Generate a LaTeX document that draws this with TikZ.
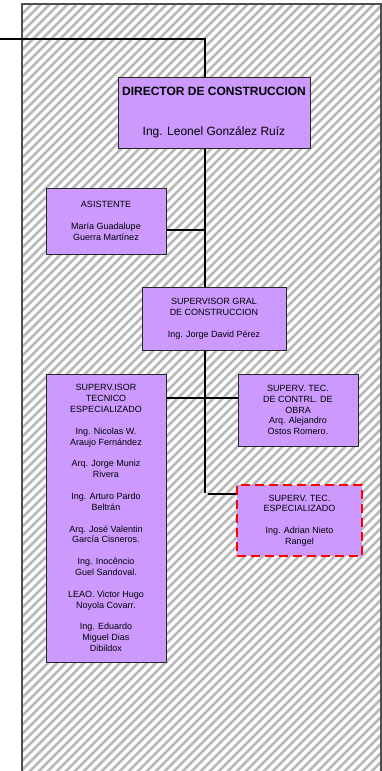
\documentclass[tikz,border=0pt]{standalone}
\usepackage{fontspec}
\setmainfont{Liberation Sans}
\definecolor{boxfill}{HTML}{CC99FF}
\definecolor{hatchgray}{HTML}{B8B8B8}
\definecolor{outergray}{HTML}{505050}
\begin{document}
\begin{tikzpicture}[x=1pt,y=-1pt,
  box/.style={draw=black!85,line width=1pt,fill=boxfill,align=center,
    font=\fontsize{9}{10.8}\selectfont,inner sep=0pt},
  dashbox/.style={box,draw=red,line width=2.5pt,dash pattern=on 9pt off 5pt},
  conn/.style={line width=2.2pt,black},
  hatch/.style={line width=2.8pt,hatchgray},
  outer/.style={line width=1.3pt,outergray}]
\useasboundingbox (0,0) rectangle (382,771);
\fill[white] (0,0) rectangle (382,771);
\begin{scope}
  \clip (22,4) rectangle (381,775);
  \foreach \c in {0,9,...,1215} \draw[hatch] (\c,0) -- (\c-800,800);
\end{scope}
\draw[outer] (22,780) -- (22,4) -- (381,4) -- (381,780);

\node[box,minimum width=192pt,minimum height=71pt,font=\fontsize{12}{14}\selectfont] (dir) at (214,112.5)
  {\textbf{DIRECTOR DE CONSTRUCCION}\\[26pt]Ing. Leonel González Ruíz};
\node[box,minimum width=120pt,minimum height=66pt] (as) at (106,221)
  {ASISTENTE\\[11pt]María Guadalupe\\Guerra Martínez};
\node[box,minimum width=144pt,minimum height=63pt] (sg) at (214,318.5)
  {SUPERVISOR GRAL\\DE CONSTRUCCION\\[11pt]Ing. Jorge David Pérez};
\node[box,minimum width=120pt,minimum height=288pt] (lb) at (106,518)
  {SUPERV.ISOR\\TECNICO\\ESPECIALIZADO\\[11pt]Ing. Nicolas W.\\Araujo Fernández\\[11pt]Arq. Jorge Muniz\\Rivera\\[11pt]Ing. Arturo Pardo\\Beltrán\\[11pt]Arq. José Valentin\\García Cisneros.\\[11pt]Ing. Inocêncio\\Guel Sandoval.\\[11pt]LEAO. Victor Hugo\\Noyola Covarr.\\[11pt]Ing. Eduardo\\Miguel Dias\\Dibildox};
\node[box,minimum width=120pt,minimum height=72pt] (rb) at (298,410)
  {SUPERV. TEC.\\DE CONTRL. DE\\OBRA\\Arq. Alejandro\\Ostos Romero.};
\node[dashbox,minimum width=125pt,minimum height=71pt] (ds) at (299.5,520.5)
  {SUPERV. TEC.\\ESPECIALIZADO\\[11pt]Ing. Adrian Nieto\\Rangel};

\coordinate (top) at (0,39);
\coordinate (sp) at (205,0);
\coordinate (ja) at (205,230);
\coordinate (jr) at (0,398);
\coordinate (jd) at (205,493);
\coordinate (je) at (208,494);
\draw[conn] (top) -| (sp |- dir.north);
\draw[conn] (sp |- dir.south) -- (sp |- sg.north);
\draw[conn] (as.east |- ja) -- (ja);
\draw[conn] (sp |- sg.south) -- (jd);
\draw[conn] (lb.east |- jr) -- (rb.west |- jr);
\draw[conn] (je) -- (ds.west |- je);
\end{tikzpicture}
\end{document}
